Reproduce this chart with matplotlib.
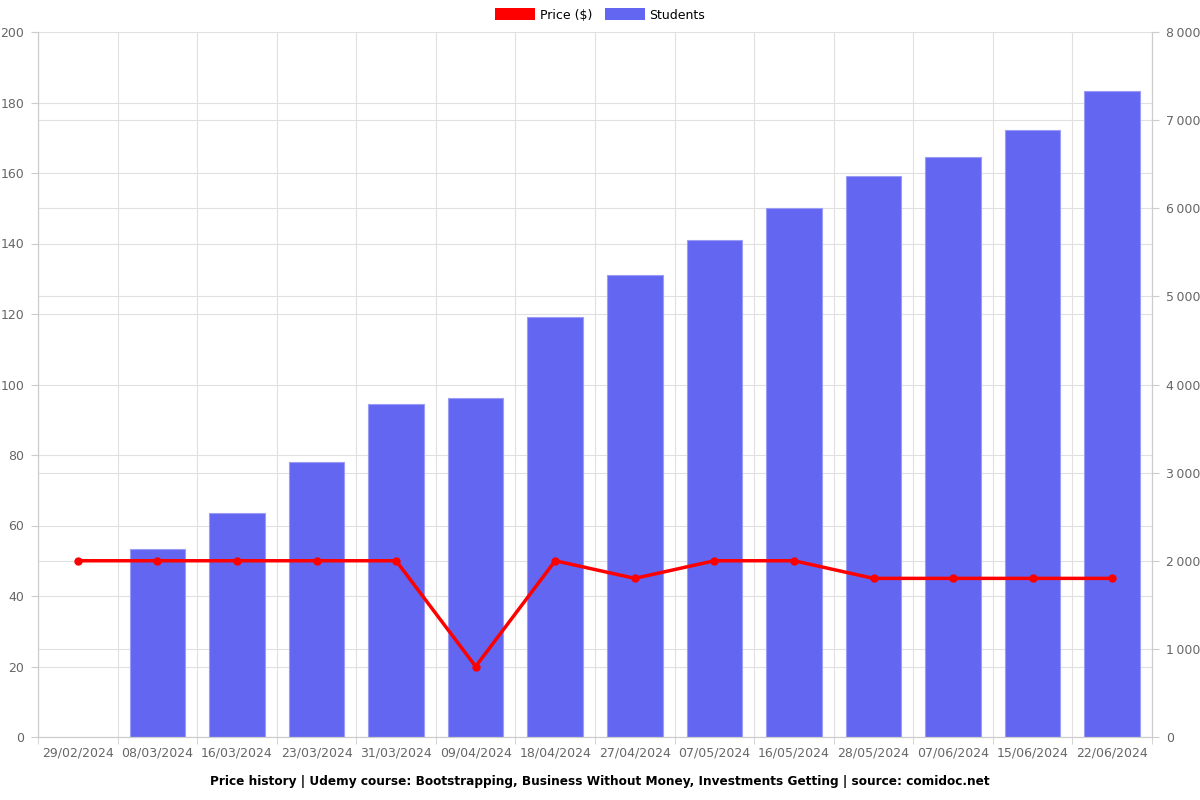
import matplotlib.pyplot as plt
from matplotlib.patches import Patch
from matplotlib.ticker import FuncFormatter
import numpy as np

dates = ['29/02/2024', '08/03/2024', '16/03/2024', '23/03/2024', '31/03/2024',
         '09/04/2024', '18/04/2024', '27/04/2024', '07/05/2024', '16/05/2024',
         '28/05/2024', '07/06/2024', '15/06/2024', '22/06/2024']
price = [50, 50, 50, 50, 50, 20, 50, 45, 50, 50, 45, 45, 45, 45]
students = [np.nan, 2133, 2542, 3121, 3779, 3847, 4766, 5243, 5640, 6003,
            6366, 6582, 6888, 7331]

price_ticks = np.arange(0, 201, 20)
student_ticks = np.arange(0, 8001, 1000)

bar_col = '#6366f1'
line_col = '#ff0000'
grid_col = '#e0e0e0'
text_col = '#666666'

fig = plt.figure(figsize=(12, 8), dpi=100)
ax = fig.add_axes([38/1200, 63/800, (1152-38)/1200, (737-32)/800])
ax2 = ax.twinx()

x = np.arange(len(dates))

# bars live on the bottom axes (students scale), line on the twin (price scale)
ax.bar(x, students, width=0.7, color=bar_col, edgecolor='#9a9cf5', linewidth=0.8, zorder=2)
ax.set_ylim(0, 8000)
ax.set_xlim(-0.5, len(dates) - 0.5)
ax.yaxis.tick_right()
ax.set_yticks(student_ticks)
ax.set_yticks(price_ticks * 40, minor=True)  # price grid in students units
ax.yaxis.set_major_formatter(FuncFormatter(lambda v, p: f'{int(v):,}'.replace(',', '\u2009')))
ax.set_axisbelow(True)
ax.grid(True, which='both', axis='y', color=grid_col, linewidth=0.8)
ax.set_xticks(x)
ax.set_xticklabels(dates)
ax.set_xticks(np.arange(-0.5, len(dates)), minor=True)
ax.grid(True, which='minor', axis='x', color=grid_col, linewidth=0.8)
ax.tick_params(axis='x', which='major', length=0, pad=7, labelsize=9, labelcolor=text_col)
ax.tick_params(axis='x', which='minor', length=5, color='#cccccc')
ax.tick_params(axis='y', which='major', length=5, color='#cccccc', labelsize=9,
               labelcolor=text_col, pad=5)
ax.tick_params(axis='y', which='minor', length=0)

ax2.plot(x, price, color=line_col, linewidth=2.5, marker='o', markersize=5, zorder=3)
ax2.set_ylim(0, 200)
ax2.yaxis.tick_left()
ax2.set_yticks(price_ticks)
ax2.tick_params(axis='y', length=5, color='#cccccc', labelsize=9, labelcolor=text_col, pad=5)

for a in (ax, ax2):
    for s in a.spines.values():
        s.set_color('#cccccc')
    a.spines['top'].set_visible(False)

handles = [Patch(facecolor=line_col, label='Price ($)'),
           Patch(facecolor=bar_col, label='Students')]
fig.legend(handles=handles, loc='center', bbox_to_anchor=(0.5, 1 - 15/800), ncol=2,
           frameon=False, fontsize=9, handlelength=3.2, handleheight=1.1,
           columnspacing=1.0, handletextpad=0.4)

fig.text(0.5, 1 - 782/800, 'Price history | Udemy course: Bootstrapping, Business Without Money, '
         'Investments Getting | source: comidoc.net', ha='center', va='center',
         fontsize=8.7, fontweight='bold')

fig.savefig('out.png', dpi=100)
